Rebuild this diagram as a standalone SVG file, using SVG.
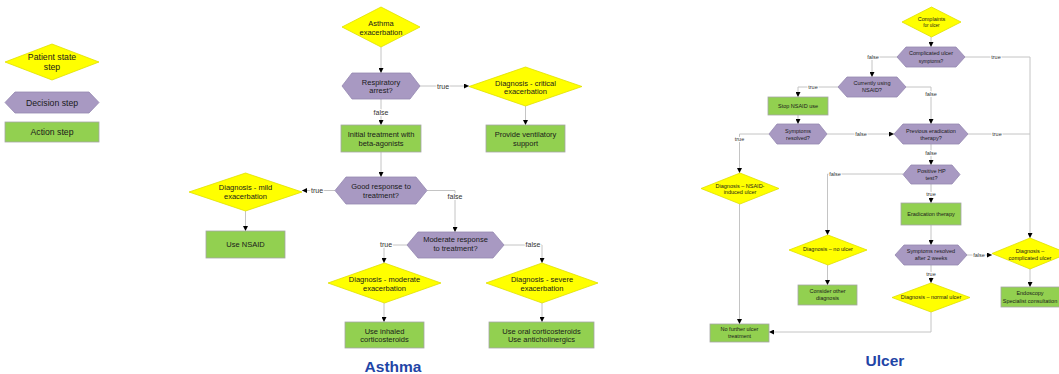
<svg xmlns="http://www.w3.org/2000/svg" width="1059" height="374" viewBox="0 0 1059 374">
<defs>
<style>
.st{fill:#ffff00;stroke:#e0e000;stroke-width:0.8}
.dc{fill:#a899c2;stroke:#9488b0;stroke-width:0.8}
.ac{fill:#92d050;stroke:#a6a6a6;stroke-width:0.8}
.t{font-family:"Liberation Sans",Arial,sans-serif;fill:#1a1a1a;text-anchor:middle}
.a{font-size:7.5px}
.u{font-size:5.5px}
.lg{font-size:8.7px}
.cn{fill:none;stroke:#c4c4c4;stroke-width:1}
.lb{font-family:"Liberation Sans",Arial,sans-serif;fill:#333;text-anchor:middle;stroke:#fff;stroke-width:2;paint-order:stroke}
.la{font-size:7px}
.lu{font-size:5.5px}
.ttl{font-family:"Liberation Sans",Arial,sans-serif;font-weight:bold;font-size:15.5px;fill:#1f45a6;text-anchor:middle}
</style>
<marker id="ar" viewBox="0 0 10 10" refX="10" refY="5" markerWidth="5" markerHeight="5" markerUnits="userSpaceOnUse" orient="auto">
<path d="M0,0 L10,5 L0,10 z" fill="#000"/>
</marker>
</defs>
<rect width="1059" height="374" fill="#fff"/>

<!-- Legend -->
<g id="legend-state"><polygon class="st" points="52,44 99,62 52,80 5,62"/><text class="t lg" x="52" y="60">Patient state</text><text class="t lg" x="52" y="70">step</text></g>
<g id="legend-decision"><polygon class="dc" points="15,92 89,92 99,102.5 89,113 15,113 5,102.5"/><text class="t lg" x="52" y="105.5">Decision step</text></g>
<g id="legend-action"><rect class="ac" x="5" y="122" width="94" height="20"/><text class="t lg" x="52" y="135">Action step</text></g>

<!-- Connectors -->
<g id="connectors">
<path class="cn" d="M381,47 V73" marker-end="url(#ar)"/>
<path class="cn" d="M420,86 H469" marker-end="url(#ar)"/>
<path class="cn" d="M525.5,106 V125" marker-end="url(#ar)"/>
<path class="cn" d="M381,99 V125" marker-end="url(#ar)"/>
<path class="cn" d="M381,152 V177" marker-end="url(#ar)"/>
<path class="cn" d="M335,190.5 H302" marker-end="url(#ar)"/>
<path class="cn" d="M245.5,211 V231" marker-end="url(#ar)"/>
<path class="cn" d="M427,190.5 H455 V232" marker-end="url(#ar)"/>
<path class="cn" d="M407,245 H384 V263" marker-end="url(#ar)"/>
<path class="cn" d="M504,245 H542 V263" marker-end="url(#ar)"/>
<path class="cn" d="M384,303 V322" marker-end="url(#ar)"/>
<path class="cn" d="M542,303 V322" marker-end="url(#ar)"/>

<path class="cn" d="M931,37 V47" marker-end="url(#ar)"/>
<path class="cn" d="M897,57 H872 V77" marker-end="url(#ar)"/>
<path class="cn" d="M965,57 H1030 V238" marker-end="url(#ar)"/>
<path class="cn" d="M838,87 H798 V97" marker-end="url(#ar)"/>
<path class="cn" d="M906,87 H931 V124" marker-end="url(#ar)"/>
<path class="cn" d="M798,115 V124" marker-end="url(#ar)"/>
<path class="cn" d="M827,134 H894" marker-end="url(#ar)"/>
<path class="cn" d="M769,134 H739.5 V173" marker-end="url(#ar)"/>
<path class="cn" d="M968,134 H1030"/>
<path class="cn" d="M931,144 V165" marker-end="url(#ar)"/>
<path class="cn" d="M903,174 H827.5 V235" marker-end="url(#ar)"/>
<path class="cn" d="M931,184 V203" marker-end="url(#ar)"/>
<path class="cn" d="M931,225 V245" marker-end="url(#ar)"/>
<path class="cn" d="M739.5,204 V324" marker-end="url(#ar)"/>
<path class="cn" d="M827.5,265 V285" marker-end="url(#ar)"/>
<path class="cn" d="M967,255 H992" marker-end="url(#ar)"/>
<path class="cn" d="M1030,269 V287" marker-end="url(#ar)"/>
<path class="cn" d="M931,265 V283" marker-end="url(#ar)"/>
<path class="cn" d="M931,312 V332 H769" marker-end="url(#ar)"/>

<text class="lb la" x="443" y="88.5">true</text>
<text class="lb la" x="381" y="115">false</text>
<text class="lb la" x="317" y="193">true</text>
<text class="lb la" x="455" y="199">false</text>
<text class="lb la" x="386" y="247">true</text>
<text class="lb la" x="533" y="247">false</text>

<text class="lb lu" x="873" y="59">false</text>
<text class="lb lu" x="996" y="59">true</text>
<text class="lb lu" x="813" y="89">true</text>
<text class="lb lu" x="931" y="96">false</text>
<text class="lb lu" x="861" y="136">false</text>
<text class="lb lu" x="739.5" y="141">true</text>
<text class="lb lu" x="997" y="136">true</text>
<text class="lb lu" x="931" y="155">false</text>
<text class="lb lu" x="835" y="176">false</text>
<text class="lb lu" x="931" y="196">true</text>
<text class="lb lu" x="979" y="257">false</text>
<text class="lb lu" x="931" y="276">true</text>
</g>

<!-- Asthma nodes -->
<g id="a-start"><polygon class="st" points="381,7 420,27 381,47 342,27"/><text class="t a" x="381" y="25.5">Asthma</text><text class="t a" x="381" y="34.5">exacerbation</text></g>
<g id="a-resp"><polygon class="dc" points="352,73 410,73 420,86 410,99 352,99 342,86"/><text class="t a" x="381" y="84.5">Respiratory</text><text class="t a" x="381" y="93">arrest?</text></g>
<g id="a-critical"><polygon class="st" points="525.5,67 582,86.5 525.5,106 469,86.5"/><text class="t a" x="525.5" y="85.5">Diagnosis - critical</text><text class="t a" x="525.5" y="94">exacerbation</text></g>
<g id="a-vent"><rect class="ac" x="486" y="125" width="79" height="27"/><text class="t a" x="525.5" y="136.5">Provide ventilatory</text><text class="t a" x="525.5" y="145.5">support</text></g>
<g id="a-initial"><rect class="ac" x="341" y="125" width="80" height="27"/><text class="t a" x="381" y="136.5">Initial treatment with</text><text class="t a" x="381" y="145.5">beta-agonists</text></g>
<g id="a-good"><polygon class="dc" points="346,177 416,177 427,190.5 416,204 346,204 335,190.5"/><text class="t a" x="381" y="188.5">Good response to</text><text class="t a" x="381" y="198">treatment?</text></g>
<g id="a-mild"><polygon class="st" points="245.5,173 302,192 245.5,211 189,192"/><text class="t a" x="245.5" y="189.5">Diagnosis - mild</text><text class="t a" x="245.5" y="198.5">exacerbation</text></g>
<g id="a-nsaid"><rect class="ac" x="206" y="231" width="79" height="27"/><text class="t a" x="245.5" y="247">Use NSAID</text></g>
<g id="a-moderate-q"><polygon class="dc" points="418,232 493,232 504,245 493,258 418,258 407,245"/><text class="t a" x="455.5" y="241.5">Moderate response</text><text class="t a" x="455.5" y="250.5">to treatment?</text></g>
<g id="a-moderate"><polygon class="st" points="384.5,263 441,283 384.5,303 328,283"/><text class="t a" x="384.5" y="281.5">Diagnosis - moderate</text><text class="t a" x="384.5" y="291">exacerbation</text></g>
<g id="a-severe"><polygon class="st" points="542,263 598,283 542,303 486,283"/><text class="t a" x="542" y="281.5">Diagnosis - severe</text><text class="t a" x="542" y="291">exacerbation</text></g>
<g id="a-inhaled"><rect class="ac" x="345" y="322" width="79" height="26"/><text class="t a" x="384.5" y="333.5">Use inhaled</text><text class="t a" x="384.5" y="342">corticosteroids</text></g>
<g id="a-oral"><rect class="ac" x="489" y="322" width="105" height="26"/><text class="t a" x="541.5" y="333.5">Use oral corticosteroids</text><text class="t a" x="541.5" y="342">Use anticholinergics</text></g>

<!-- Ulcer nodes -->
<g id="u-start"><polygon class="st" points="931.5,7 961,22 931.5,37 902,22"/><text class="t u" x="931.5" y="21">Complaints</text><text class="t" style="font-size:4.5px" x="931.5" y="26.5">for ulcer</text></g>
<g id="u-complicated"><polygon class="dc" points="906,47 956,47 965,57 956,67 906,67 897,57"/><text class="t u" x="931" y="55">Complicated ulcer</text><text class="t" style="font-size:4.8px" x="931" y="62.5">symptoms?</text></g>
<g id="u-using"><polygon class="dc" points="847,77 897,77 906,87 897,97 847,97 838,87"/><text class="t u" x="872" y="85">Currently using</text><text class="t u" x="872" y="92">NSAID?</text></g>
<g id="u-stop"><rect class="ac" x="768" y="97" width="60" height="18"/><text class="t u" x="798" y="108">Stop NSAID use</text></g>
<g id="u-resolved"><polygon class="dc" points="777,124 819,124 827,134 819,144 777,144 769,134"/><text class="t u" x="798" y="133">Symptoms</text><text class="t u" x="798" y="140">resolved?</text></g>
<g id="u-previous"><polygon class="dc" points="903,124 959,124 968,134 959,144 903,144 894,134"/><text class="t u" x="931" y="133">Previous eradication</text><text class="t u" x="931" y="140">therapy?</text></g>
<g id="u-hp"><polygon class="dc" points="911,165 952,165 960,174.5 952,184 911,184 903,174.5"/><text class="t u" x="931.5" y="173">Positive HP</text><text class="t u" x="931.5" y="180">test?</text></g>
<g id="u-erad"><rect class="ac" x="901" y="203" width="60" height="22"/><text class="t u" x="931" y="216">Eradication therapy</text></g>
<g id="u-nsaid-dx"><polygon class="st" points="740,173 779,188.5 740,204 701,188.5"/><text class="t u" x="740" y="188">Diagnosis – NSAID-</text><text class="t u" x="740" y="194">induced ulcer</text></g>
<g id="u-noulcer"><polygon class="st" points="828,235 867,250 828,265 789,250"/><text class="t u" x="828" y="251">Diagnosis – no ulcer</text></g>
<g id="u-consider"><rect class="ac" x="798" y="285" width="59" height="20"/><text class="t u" x="827.5" y="293">Consider other</text><text class="t u" x="827.5" y="300">diagnosis</text></g>
<g id="u-2weeks"><polygon class="dc" points="904,245 958,245 967,255 958,265 904,265 895,255"/><text class="t u" x="931" y="253">Symptoms resolved</text><text class="t u" x="931" y="260">after 2 weeks</text></g>
<g id="u-compl-dx"><polygon class="st" points="1030,238 1068,253.5 1030,269 992,253.5"/><text class="t u" x="1030" y="253">Diagnosis –</text><text class="t u" x="1030" y="260">complicated ulcer</text></g>
<g id="u-endo"><rect class="ac" x="1001" y="287" width="62" height="20"/><text class="t u" x="1030" y="295">Endoscopy</text><text class="t u" x="1030" y="302.5">Specialist consultation</text></g>
<g id="u-normal"><polygon class="st" points="931,283 970,297.5 931,312 892,297.5"/><text class="t u" x="931" y="299">Diagnosis – normal ulcer</text></g>
<g id="u-nofurther"><rect class="ac" x="710" y="324" width="59" height="18"/><text class="t u" x="739.5" y="331">No further ulcer</text><text class="t u" x="739.5" y="338">treatment</text></g>

<text class="ttl" x="393" y="372">Asthma</text>
<text class="ttl" x="885" y="366">Ulcer</text>
</svg>
